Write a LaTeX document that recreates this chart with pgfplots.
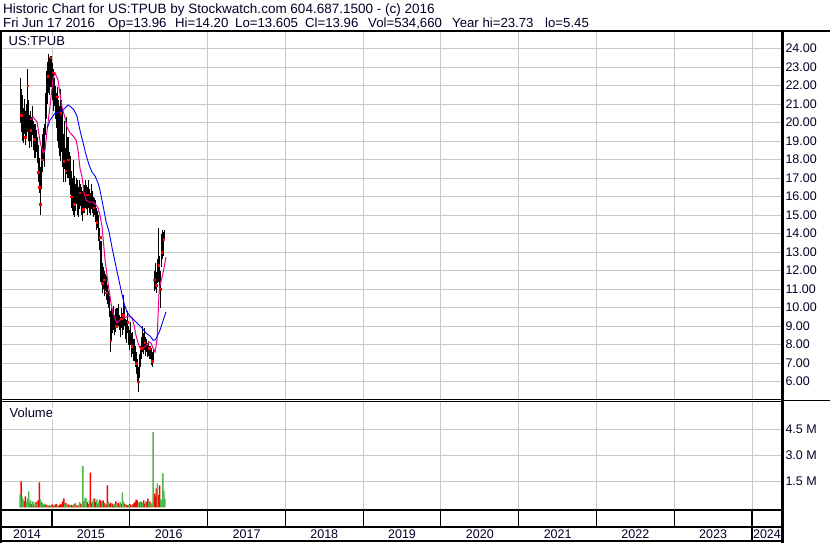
\documentclass[border=0pt]{standalone}
\usepackage{fontspec}
\setmainfont{Liberation Sans}
\usepackage{pgfplots}
\pgfplotsset{compat=1.18}
\usepackage{pgfplotstable}
\definecolor{gridc}{RGB}{200,200,200}
\definecolor{txt}{RGB}{0,0,40}
\definecolor{vgreen}{RGB}{80,184,72}

% x = days since 2014-01-01
\pgfplotstableread{
d lo hi
215 20.0 22.4
220 19.5 21.8
225 19.0 21.5
230 18.9 20.8
235 19.4 21.3
240 18.8 20.6
245 19.2 21.0
250 19.5 22.9
255 19.0 21.2
260 18.6 20.4
265 19.0 20.6
270 18.7 20.3
275 19.3 20.9
280 18.5 20.1
285 18.1 19.9
290 18.4 19.6
295 17.8 19.2
300 16.8 18.8
305 16.2 18.1
310 15.0 17.6
315 16.4 18.6
320 17.3 19.4
325 18.0 19.7
330 17.6 19.9
335 19.3 21.6
340 20.2 22.8
345 21.0 23.3
350 21.6 23.73
355 21.5 23.5
360 21.9 23.6
365 21.2 23.2
370 20.6 22.9
375 20.9 22.4
380 20.2 22.0
385 19.7 21.6
390 19.0 21.9
395 18.6 21.2
400 18.2 20.9
405 17.9 21.8
410 18.4 21.2
415 17.6 20.6
420 16.8 19.4
425 17.5 20.1
430 16.8 18.6
435 17.2 20.3
440 17.0 19.2
445 16.6 18.4
450 16.1 18.2
455 15.4 17.4
460 15.2 17.0
465 15.0 18.0
470 14.9 17.1
475 15.2 16.7
480 15.6 17.0
485 15.0 16.9
490 14.9 16.5
495 15.3 16.9
500 15.5 16.7
505 15.0 16.5
510 14.7 16.3
515 15.1 16.6
520 15.4 16.9
525 15.3 16.6
530 15.0 16.5
535 15.4 16.9
540 15.1 16.4
545 15.0 16.2
550 15.3 16.7
555 15.1 16.3
560 14.9 16.0
565 15.0 15.9
570 14.6 15.8
575 14.2 15.4
580 14.3 15.2
585 13.6 15.0
590 13.1 14.3
595 11.4 13.6
600 10.8 12.4
605 11.0 12.2
610 10.6 12.0
615 10.9 11.8
620 10.4 11.7
625 10.2 11.2
630 10.0 10.9
635 9.5 10.6
640 7.6 9.8
645 8.2 10.0
650 8.6 9.8
655 8.8 10.1
660 8.5 9.6
665 8.7 9.9
670 8.9 10.0
675 9.0 10.2
680 8.8 9.6
685 8.4 9.5
690 8.9 10.0
695 8.5 9.7
700 8.8 10.7
705 9.0 10.1
710 8.3 9.4
715 8.1 9.3
720 8.6 9.8
725 8.0 9.0
730 7.7 8.8
735 8.0 9.2
740 7.3 8.6
745 7.5 8.7
750 7.1 8.3
755 6.8 7.9
760 6.4 7.6
765 5.9 7.2
770 5.45 6.8
775 6.2 7.5
780 6.8 7.9
785 7.2 8.4
790 7.6 9.0
795 7.5 8.6
800 7.7 8.9
805 7.4 8.4
810 7.6 8.3
815 7.3 8.0
820 7.4 8.2
825 7.2 7.9
830 6.9 7.8
835 6.8 7.6
840 7.0 7.8
845 10.9 12.0
850 11.0 12.4
855 10.8 11.9
860 11.3 12.6
865 11.4 14.3
870 11.0 12.8
875 10.0 12.0
880 12.2 14.0
885 12.6 14.2
890 12.8 14.1
895 13.6 14.2
}\price

\pgfplotstableread{
d c
220 20.4
240 19.2
250 22.0
265 19.6
280 19.1
300 17.3
305 16.5
310 15.6
320 18.0
345 22.5
355 23.5
370 22.7
390 21.4
405 20.5
420 17.9
430 17.4
440 18.0
455 16.0
470 15.6
495 16.2
510 15.3
530 16.1
560 15.4
575 14.6
590 13.8
600 11.3
610 11.5
620 10.8
640 8.2
665 9.0
690 9.4
700 9.6
720 9.2
740 7.9
760 7.0
770 6.0
785 7.8
800 8.1
820 7.8
835 7.1
845 11.5
855 11.2
865 12.3
875 11.0
880 13.0
890 13.7
}\closes

\pgfplotstableread{
d v
262 20.14
276 20.30
295 20.03
309 18.95
323 18.35
332 18.51
342 19.59
356 20.95
370 22.41
379 22.68
393 22.30
403 21.49
412 20.84
426 20.24
435 19.76
450 19.43
464 19.27
478 19.05
487 18.51
496 17.54
506 17.05
515 16.24
525 15.81
539 15.70
558 15.70
572 15.54
581 15.38
590 15.00
600 14.35
614 12.57
628 11.32
642 10.24
651 9.70
670 9.16
684 9.32
698 9.43
713 9.49
727 9.54
741 9.43
750 9.05
759 8.51
769 8.08
778 7.81
792 7.81
806 7.92
820 8.14
830 8.08
839 7.81
849 7.59
858 8.24
863 9.59
867 10.68
872 11.22
882 11.65
891 12.14
900 12.73
}\mafast

\pgfplotstableread{
d v
342 19.70
356 20.14
379 20.51
403 20.57
426 20.78
440 20.95
454 20.84
468 20.68
482 20.35
496 19.59
511 18.89
525 18.24
539 17.70
553 17.32
567 17.11
581 16.73
590 16.35
604 15.54
619 14.62
633 14.08
647 13.22
661 12.46
675 11.70
689 10.95
703 10.24
717 9.76
731 9.54
750 9.32
769 9.11
788 8.89
806 8.62
825 8.46
839 8.24
849 8.24
858 8.41
872 8.78
886 9.27
900 9.76
}\maslow

\pgfplotstableread{
d v
220 1.50
235 0.35
240 0.63
260 0.25
270 0.20
280 0.15
290 0.30
300 0.40
305 1.44
315 0.30
325 0.15
335 0.18
340 0.10
350 0.08
355 0.12
365 0.18
370 0.10
380 0.16
385 0.20
395 0.08
400 0.15
405 0.20
410 0.12
415 0.35
420 0.52
430 0.25
440 0.18
445 0.12
455 0.15
460 0.10
470 0.20
480 0.10
490 0.12
500 0.22
515 0.35
530 0.30
535 0.20
545 2.00
550 0.25
565 0.50
570 0.30
580 0.20
590 0.45
595 0.35
605 0.40
610 0.25
620 0.15
625 1.27
635 0.20
640 0.28
650 0.22
655 0.12
665 0.35
675 0.25
680 0.18
690 0.20
705 0.22
715 0.15
720 0.12
730 0.20
735 0.10
745 0.18
750 0.25
755 0.30
760 0.45
765 0.40
775 0.25
785 0.30
795 0.40
800 0.20
810 0.30
815 0.50
825 0.35
845 0.80
850 0.60
855 1.10
865 0.70
870 1.27
}\volred

\pgfplotstableread{
d v
215 0.75
225 0.60
230 0.45
245 0.30
250 0.50
255 0.92
265 0.40
275 0.35
285 0.28
295 0.20
310 0.46
320 0.25
330 0.22
345 0.15
360 0.10
375 0.14
390 0.12
425 0.20
435 0.15
450 0.10
465 0.14
475 0.25
485 0.15
495 0.30
505 0.18
510 2.37
520 0.55
525 0.50
540 0.40
555 0.35
560 0.52
575 0.45
585 0.30
600 0.28
615 0.20
630 0.35
645 0.15
660 0.20
670 0.15
685 0.30
695 0.87
700 0.35
710 0.20
725 0.15
740 0.12
770 0.30
780 0.35
790 0.22
805 0.35
820 0.30
830 0.20
835 0.25
840 4.33
860 1.38
875 0.50
880 0.40
885 1.96
890 0.95
895 0.50
}\volgreen

\pgfplotsset{
  swbase/.style={
    scale only axis, width=780pt,
    xmin=130, xmax=3793,
    axis line style={draw=none},
    major tick length=0pt,
    tick style={draw=none},
    xtick={365,730,1096,1461,1826,2191,2557,2922,3287,3652},
    xticklabels={},
    xmajorgrids=true, ymajorgrids=true,
    major grid style={gridc, line width=0.8pt},
    yticklabel pos=right,
    yticklabel style={font=\fontsize{12.5}{14}\selectfont, text=txt, anchor=west},
  }
}

\begin{document}
\begin{tikzpicture}[x=1pt,y=1pt]
\path[use as bounding box] (0,0) rectangle (830,543);
\fill[white] (0,0) rectangle (830,543);

% price panel
\begin{axis}[swbase, at={(2pt,143pt)}, anchor=south west, height=369pt,
  ymin=5.0, ymax=24.95, ytick={6,7,...,24},
  yticklabel style={/pgf/number format/.cd, fixed, fixed zerofill, precision=2, assume math mode=true}]
\addplot[only marks, mark size=0pt, mark options={draw=none, fill=none},
  error bars/.cd, y dir=plus, y explicit, error mark=none,
  error bar style={draw=black, solid, line width=1.05pt}]
  table[x=d, y=lo, y error expr=\thisrow{hi}-\thisrow{lo}] {\price};
\addplot[only marks, mark=square*, mark size=0.8pt, red] table[x=d, y=c] {\closes};
\addplot[magenta, line width=1pt] table[x=d, y=v] {\mafast};
\addplot[blue, line width=0.9pt] table[x=d, y=v] {\maslow};
\end{axis}

% volume panel
\begin{axis}[swbase, at={(2pt,33pt)}, anchor=south west, height=108pt,
  ymin=-0.15, ymax=6.07, ytick={1.5,3,4.5}, yticklabels={1.5 M,3.0 M,4.5 M}]
\addplot[ybar, bar width=1.5pt, bar shift=0pt, fill=red, draw=none] table[x=d, y=v] {\volred};
\addplot[ybar, bar width=1.5pt, bar shift=0pt, fill=vgreen, draw=none] table[x=d, y=v] {\volgreen};
\end{axis}

% year band and labels
\begin{axis}[swbase, at={(2pt,16pt)}, anchor=south west, height=17pt,
  ymin=0, ymax=1, ytick=\empty, ymajorgrids=false,
  major grid style={black, line width=1.2pt},
  extra x ticks={247.5,547.5,913,1278.5,1643.5,2008.5,2374,2739.5,3104.5,3469.5,3722.5},
  extra x tick labels={2014,2015,2016,2017,2018,2019,2020,2021,2022,2023,2024},
  extra x tick style={grid=none, tick label style={font=\fontsize{12.5}{14}\selectfont, text=txt, anchor=north, yshift=1pt}}]
\addplot[draw=none] coordinates {(300,0.5)};
\end{axis}

% frame lines
\draw[black, line width=2.5pt] (0,512.2) -- (830,512.2);
\draw[black, line width=2pt] (1,0) -- (1,513);
\draw[black, line width=3pt] (782.5,0) -- (782.5,513);
\draw[black, line width=1pt] (0,143) -- (782,143);
\draw[black, line width=1pt] (0,141) -- (782,141);
\draw[black, line width=1pt] (782,142) -- (830,142);
\draw[black, line width=2pt] (0,33) -- (782,33);
\draw[black, line width=2pt] (0,16) -- (782,16);
\draw[black, line width=2pt] (0,2) -- (782,2);
\draw[black, line width=1.2pt] (752,2) -- (752,16);

% header
\node[anchor=base west, inner sep=0, text=txt, font=\fontsize{13.5}{15}\selectfont] at (3,529.7) {Historic Chart for US:TPUB by Stockwatch.com 604.687.1500 - (c) 2016};
\begin{scope}[every node/.style={anchor=base west, inner sep=0, text=txt, font=\fontsize{13.2}{15}\selectfont}]
\node at (3,515.7) {Fri Jun 17 2016};
\node at (108,515.7) {Op=13.96};
\node at (175,515.7) {Hi=14.20};
\node at (235,515.7) {Lo=13.605};
\node at (305,515.7) {Cl=13.96};
\node at (368,515.7) {Vol=534,660};
\node at (452,515.7) {Year hi=23.73};
\node at (545,515.7) {lo=5.45};
\end{scope}

\node[anchor=base west, inner sep=0.5pt, fill=white, text=txt, font=\fontsize{13}{15}\selectfont] at (8,497) {US:TPUB};
\node[anchor=base west, inner sep=0.5pt, fill=white, text=txt, font=\fontsize{13}{15}\selectfont] at (9,125) {Volume};
\end{tikzpicture}
\end{document}
